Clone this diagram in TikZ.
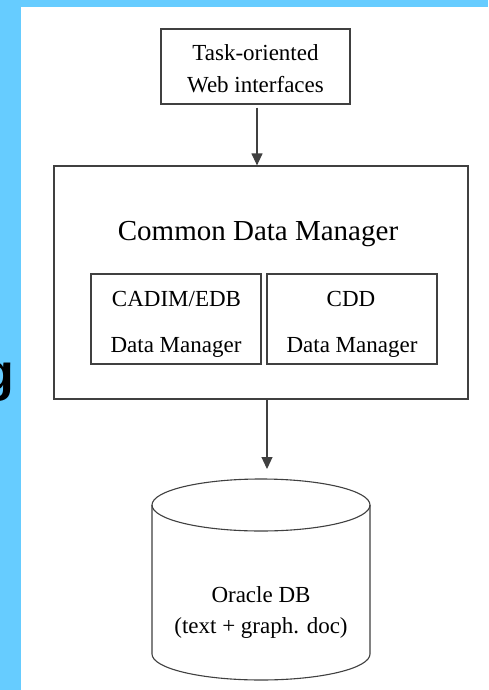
\documentclass[tikz,border=0pt]{standalone}
\usepackage{fontspec}
\setmainfont{Liberation Serif}
\newfontfamily\gfont{Liberation Sans}
\usetikzlibrary{arrows.meta}
\definecolor{skyband}{HTML}{66CCFF}
\definecolor{linegray}{HTML}{404040}
\tikzset{
  boxshape/.style={draw=linegray, line width=1.2pt, rectangle, inner sep=0pt},
  txt/.style={inner sep=0pt, anchor=base, font=\fontsize{23}{31}\selectfont},
  bigtxt/.style={inner sep=0pt, anchor=base, font=\fontsize{29}{34}\selectfont},
  arr/.style={draw=linegray, line width=1.2pt, -{Triangle[length=12pt,width=11pt]}},
  cyl/.style={draw=linegray, line width=1.1pt}
}
\begin{document}
\begin{tikzpicture}[x=1pt,y=-1pt]
\useasboundingbox (0,0) rectangle (488,690);
% background
\fill[skyband] (0,0) rectangle (488,690);
\fill[white] (21,7.5) rectangle (488,690);
% cut-off letter on the left band
\begin{scope}
\clip (0,0) rectangle (21,690);
\node[inner sep=0pt, anchor=base east, font=\gfont\bfseries\fontsize{52}{52}\selectfont] (gletter) at (14.5,390) {g};
\end{scope}
% top box
\node[boxshape, minimum width=189pt, minimum height=75pt] (web) at (255.5,66.5) {};
\node[txt] (web1) at (255.5,61) {Task-oriented};
\node[txt] (web2) at (255.5,92.5) {Web interfaces};
% common data manager
\node[boxshape, minimum width=414pt, minimum height=233pt] (cdm) at (261,282.5) {};
\node[bigtxt] (cdmt) at (258,240) {Common Data Manager};
\node[boxshape, minimum width=170pt, minimum height=90pt] (cadim) at (176,319) {};
\node[txt] (cadim1) at (176.5,306) {CADIM/EDB};
\node[txt] (cadim2) at (176,352) {Data Manager};
\node[boxshape, minimum width=170pt, minimum height=90pt] (cdd) at (352,319) {};
\node[txt] (cdd1) at (351,306) {CDD};
\node[txt] (cdd2) at (352,352) {Data Manager};
% database cylinder
\draw[cyl] (261,505) ellipse [x radius=109, y radius=26];
\draw[cyl] (152,505) -- (152,654) arc[start angle=180, end angle=0, x radius=109, y radius=26] -- (370,505);
\coordinate (dbtop) at (267,469);
\node[txt] (db1) at (261,602) {Oracle DB};
\node[txt] (db2) at (261,633) {(text + graph. doc)};
% connectors
\draw[arr] ([xshift=1.5pt,yshift=-3pt]web.south) -- ([xshift=1.5pt]web.south |- cdm.north);
\draw[arr] ([xshift=6pt]cdm.south) -- (dbtop);
\end{tikzpicture}
\end{document}
